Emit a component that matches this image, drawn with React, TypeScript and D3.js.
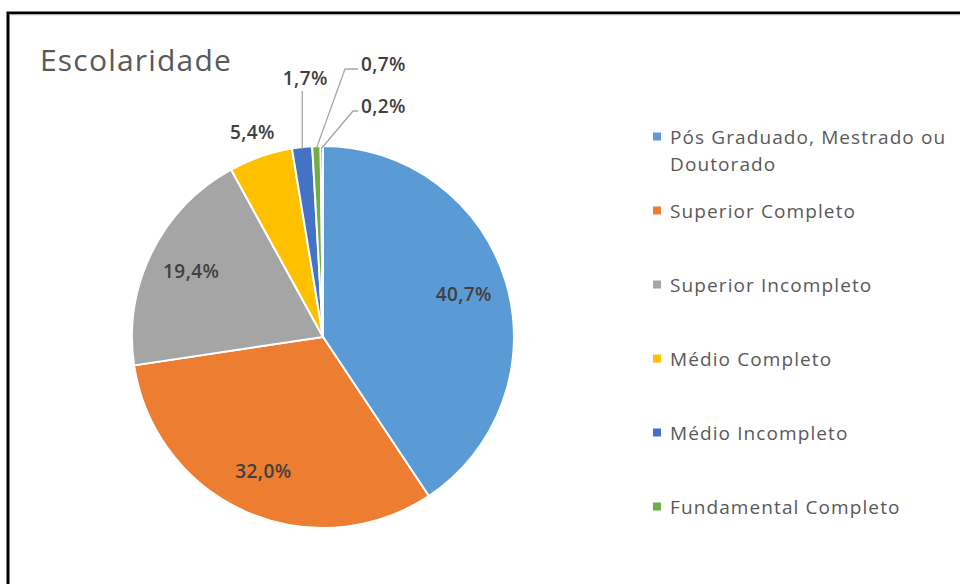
import React from 'react';
import * as d3 from 'd3';

// Escolaridade - distribuição (%)
const categories = [
  'Pós Graduado, Mestrado ou Doutorado',
  'Superior Completo',
  'Superior Incompleto',
  'Médio Completo',
  'Médio Incompleto',
  'Fundamental Completo',
  'Fundamental Incompleto',
];
const values = [40.7, 32.0, 19.4, 5.4, 1.7, 0.7, 0.2];
const colors = ['#5B9BD5', '#ED7D31', '#A5A5A5', '#FFC000', '#4472C4', '#70AD47', '#264478'];
// only the first six entries fit in the visible legend
const legendLines = [
  ['Pós Graduado, Mestrado ou', 'Doutorado'],
  ['Superior Completo'],
  ['Superior Incompleto'],
  ['Médio Completo'],
  ['Médio Incompleto'],
  ['Fundamental Completo'],
];

const W = 960;
const H = 584;
const FONT = "'Open Sans', 'Noto Sans', sans-serif";

const fmt = (v: number) => v.toFixed(1).replace('.', ',') + '%';

export default function App() {
  const cx = 323;
  const cy = 337;
  const R = 191;

  const pie = d3.pie<number>().sort(null).value((d) => d);
  const arcs = pie(values);
  const arc = d3.arc<d3.PieArcDatum<number>>().innerRadius(0).outerRadius(R);

  const mid = (a: d3.PieArcDatum<number>) => (a.startAngle + a.endAngle) / 2;
  const polar = (ang: number, r: number): [number, number] => [
    cx + r * Math.sin(ang),
    cy - r * Math.cos(ang),
  ];

  const legendY = d3.scaleLinear().domain([0, 1]).range([143.5, 217.5]);

  // labels for the tiny slices near 12 o'clock are pulled out with leader lines
  const labels = arcs.map((a, i) => {
    const m = mid(a);
    const text = fmt(values[i]);
    if (values[i] >= 10) {
      const [x, y] = polar(m, R * 0.77);
      return { x, y, text, anchor: 'middle', line: null as null | string };
    }
    if (values[i] >= 5) {
      const [x, y] = polar(m, R + 25);
      return { x, y, text, anchor: 'middle', line: null };
    }
    const [ax, ay] = polar(m, R - 2);
    if (i === 4) {
      const ly = cy - R - 68;
      return { x: ax + 3, y: ly, text, anchor: 'middle', line: `M${ax},${ay}L${ax},${ly + 13}` };
    }
    const order = i - 5; // 0 -> upper, 1 -> lower
    const ly = cy - R - (order === 0 ? 82 : 40);
    const lx = cx + 38;
    const elbowX = cx + (order === 0 ? 22 : 30);
    return {
      x: lx,
      y: ly,
      text,
      anchor: 'start',
      line: `M${ax},${ay}L${elbowX},${ly + 5}L${lx - 3},${ly + 5}`,
    };
  });

  return (
    <svg
      width={W}
      height={H}
      style={{ position: 'absolute', left: 0, top: 0, background: '#fff' }}
      fontFamily={FONT}
    >
      <rect x={8} y={13} width={W + 20} height={H + 20} fill="#fff" stroke="#000" strokeWidth={3} />
      <line x1={9.5} x2={W} y1={15} y2={15} stroke="#d9d9d9" strokeWidth={1} />

      <text x={40} y={71} fontSize={30} letterSpacing={1.2} fill="#595959">
        Escolaridade
      </text>

      <g>
        {arcs.map((a, i) => (
          <path
            key={i}
            d={arc(a) || ''}
            transform={`translate(${cx},${cy})`}
            fill={colors[i]}
            stroke="#fff"
            strokeWidth={2}
          />
        ))}
      </g>

      <g>
        {labels.map((l, i) =>
          l.line ? <path key={i} d={l.line} fill="none" stroke="#a6a6a6" strokeWidth={1.3} /> : null
        )}
        {labels.map((l, i) => (
          <text
            key={i}
            x={l.x}
            y={l.y}
            dy="0.35em"
            textAnchor={l.anchor}
            fontSize={19}
            letterSpacing={0.4}
            fontWeight={600}
            fill="#404040"
          >
            {l.text}
          </text>
        ))}
      </g>

      <g>
        {legendLines.map((lines, i) => {
          const y = legendY(i);
          return (
            <g key={i}>
              <rect x={653} y={y - 11} width={8} height={8} fill={colors[i]} />
              {lines.map((t, j) => (
                <text key={j} x={670} y={y + j * 27} fontSize={19} letterSpacing={1.1} fill="#595959">
                  {t}
                </text>
              ))}
            </g>
          );
        })}
      </g>
    </svg>
  );
}
